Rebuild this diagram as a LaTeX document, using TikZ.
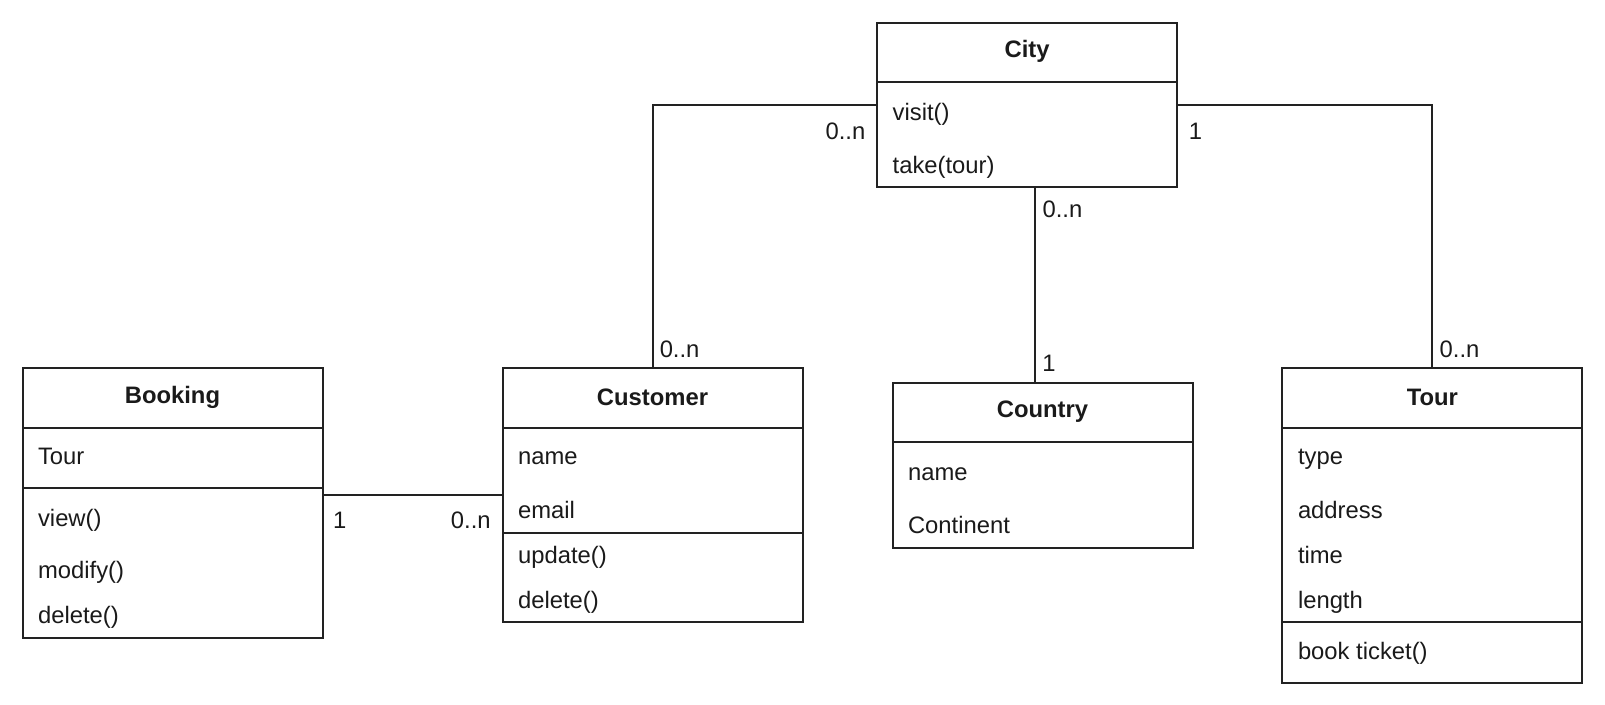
\documentclass[tikz,border=0pt]{standalone}
\usepackage{fontspec}
\setmainfont{Liberation Sans}
\definecolor{ln}{HTML}{222222}
\definecolor{tx}{HTML}{1A1A1A}
\begin{document}
\begin{tikzpicture}[x=1.0235pt,y=-1.0235pt,
  box/.style={draw=ln,line width=2pt,inner sep=0pt,outer sep=0pt,anchor=north west},
  divider/.style={draw=ln,line width=2pt},
  conn/.style={draw=ln,line width=2pt},
  hdr/.style={font=\fontsize{23.8}{28}\selectfont\bfseries,text=tx,inner sep=0pt},
  item/.style={font=\fontsize{23.8}{28}\selectfont,text=tx,inner sep=0pt,anchor=west,text height=17pt,text depth=0pt},
  mult/.style={font=\fontsize{23.8}{28}\selectfont,text=tx,inner sep=0pt,text height=17pt,text depth=0pt}]
\useasboundingbox[fill=white] (0,0) rectangle (1568.15,688.8);

% Booking
\node[box,minimum width=300pt,minimum height=269.2pt] (booking) at (22,360) {};
\node[hdr] (bookingH) at (168.5,388) {Booking};
\draw[divider] (booking.west |- 0,418) -- (booking.east |- 0,418);
\draw[divider] (booking.west |- 0,477) -- (booking.east |- 0,477);
\node[item] (bookingA1) at (37,446) {Tour};
\node[item] (bookingM1) at (37,506) {view()};
\node[item] (bookingM2) at (37,557) {modify()};
\node[item] (bookingM3) at (37,601) {delete()};

% Customer
\node[box,minimum width=300pt,minimum height=253.8pt] (customer) at (491,360) {};
\node[hdr] (customerH) at (637.5,388) {Customer};
\draw[divider] (customer.west |- 0,521) -- (customer.east |- 0,521);
\draw[divider] (customer.west |- 0,418) -- (customer.east |- 0,418);
\node[item] (customerA1) at (506,446) {name};
\node[item] (customerA2) at (506,498) {email};
\node[item] (customerM1) at (506,542) {update()};
\node[item] (customerM2) at (506,586) {delete()};

% City
\node[box,minimum width=300pt,minimum height=164.8pt] (city) at (857,22) {};
\node[hdr] (cityH) at (1003.5,50) {City};
\draw[divider] (city.west |- 0,80) -- (city.east |- 0,80);
\node[item] (cityM1) at (872,109) {visit()};
\node[item] (cityM2) at (872,161) {take(tour)};

% Country
\node[box,minimum width=300pt,minimum height=164.8pt] (country) at (872,374) {};
\node[hdr] (countryH) at (1018.5,402) {Country};
\draw[divider] (country.west |- 0,432) -- (country.east |- 0,432);
\node[item] (countryA1) at (887,461) {name};
\node[item] (countryA2) at (887,513) {Continent};

% Tour
\node[box,minimum width=300pt,minimum height=314.2pt] (tour) at (1253,360) {};
\node[hdr] (tourH) at (1399.5,388) {Tour};
\draw[divider] (tour.west |- 0,418) -- (tour.east |- 0,418);
\draw[divider] (tour.west |- 0,608) -- (tour.east |- 0,608);
\node[item] (tourA1) at (1268,446) {type};
\node[item] (tourA2) at (1268,498) {address};
\node[item] (tourA3) at (1268,542) {time};
\node[item] (tourA4) at (1268,586) {length};
\node[item] (tourM1) at (1268,636) {book ticket()};

% Connectors
\draw[conn] (booking.east |- 0,484) -- (customer.west |- 0,484);
\node[mult] (m1) at (332,508) {1};
\node[mult] (m2) at (460,508) {0..n};

\draw[conn] (city.west |- 0,103) -| (customer.north);
\node[mult] (m3) at (826,128) {0..n};
\node[mult] (m4) at (664,341) {0..n};

\draw[conn] (city.south -| 1011,0) -- (country.north -| 1011,0);
\node[mult] (m5) at (1038,204) {0..n};
\node[mult] (m6) at (1025,355) {1};

\draw[conn] (city.east |- 0,103) -| (tour.north);
\node[mult] (m7) at (1168,128) {1};
\node[mult] (m8) at (1426,341) {0..n};
\end{tikzpicture}
\end{document}
